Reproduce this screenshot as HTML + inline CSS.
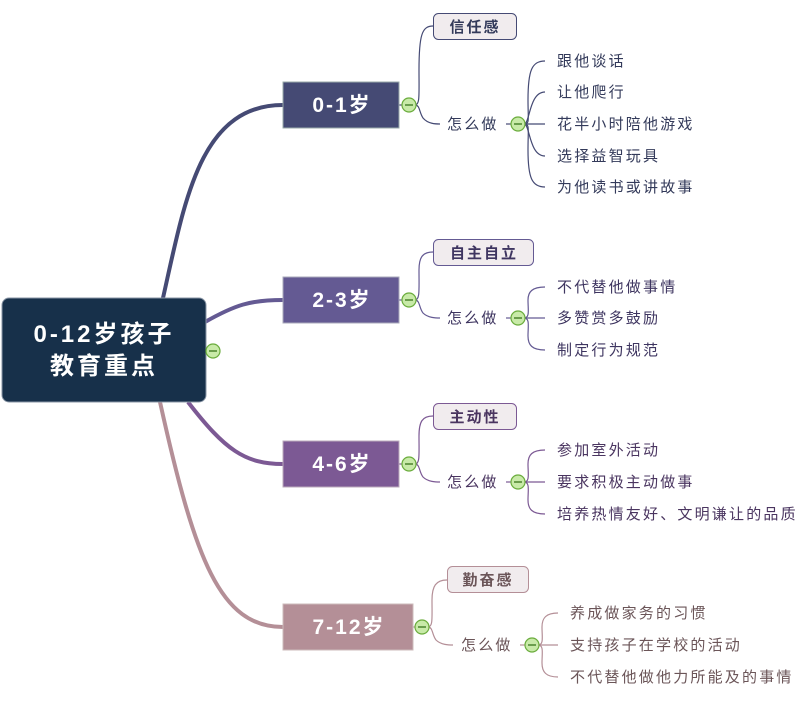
<!DOCTYPE html>
<html><head><meta charset="utf-8"><style>
html,body{margin:0;padding:0;background:#fff;}
svg text{font-family:"Liberation Sans","Noto Sans CJK SC",sans-serif;}
.lf{font-size:15px;letter-spacing:2.2px;}
</style></head><body>
<svg width="800" height="704" viewBox="0 0 800 704" xmlns="http://www.w3.org/2000/svg">
<g fill="none" stroke-width="4">
<path d="M163,298 C185,200 200,105 283,105" stroke="#454a74"/>
<path d="M205,322 C235,305 250,300 283,300" stroke="#645a93"/>
<path d="M188,402 C225,450 245,464 283,464" stroke="#7c5994"/>
<path d="M160,402 C195,560 220,627 283,627" stroke="#b48f97"/>
</g>
<rect x="2" y="298" width="204" height="104" rx="7" fill="#17304a" stroke="#8a96a6" stroke-width="1"/>
<text x="104" y="342" fill="#fff" font-size="24" font-weight="bold" text-anchor="middle" letter-spacing="3">0-12岁孩子</text>
<text x="104" y="374" fill="#fff" font-size="24" font-weight="bold" text-anchor="middle" letter-spacing="3">教育重点</text>
<circle cx="213" cy="351" r="7" fill="#c8eaa8" stroke="#6aac3c" stroke-width="1.2"/><line x1="209" y1="351" x2="217" y2="351" stroke="#2d6a10" stroke-width="1.2"/>

<g stroke="#454a74" fill="none" stroke-width="1.2">
<line x1="399" y1="105" x2="403" y2="105"/>
<path d="M415,105 C420,105 419,95 419,70 C419,35 422,26 433,26"/>
<path d="M415,105 C420,105 419,112 423,118 C428,124 436,124 440,124"/>
<line x1="506" y1="124" x2="512" y2="124"/>
<path d="M524,124 C530,124 528,120 528,100 C528,70 532,61 545,61"/>
<path d="M524,124 C530,124 529,92 545,92"/>
<line x1="524" y1="124" x2="545" y2="124"/>
<path d="M524,124 C530,124 529,156 545,156"/>
<path d="M524,124 C530,124 528,128 528,150 C528,178 532,187 545,187"/>
</g>
<rect x="283" y="82" width="116" height="46" fill="#454a74" stroke="#9aa" stroke-width="1"/>
<text x="342" y="112" fill="#fff" font-size="21" font-weight="bold" text-anchor="middle" letter-spacing="2">0-1岁</text>
<rect x="433.5" y="13.5" width="83" height="26" rx="5" fill="#f1ecee" stroke="#454a74"/>
<text x="475" y="32" fill="#333a5a" font-size="15" font-weight="bold" text-anchor="middle" letter-spacing="2">信任感</text>
<text x="447" y="129" fill="#333a5a" class="lf">怎么做</text>
<g fill="#333a5a">
<text x="557" y="66" class="lf">跟他谈话</text>
<text x="557" y="97" class="lf">让他爬行</text>
<text x="557" y="129" class="lf">花半小时陪他游戏</text>
<text x="557" y="161" class="lf">选择益智玩具</text>
<text x="557" y="192" class="lf">为他读书或讲故事</text>
</g>

<g stroke="#645a93" fill="none" stroke-width="1.2">
<line x1="399" y1="300" x2="403" y2="300"/>
<path d="M415,300 C420,300 419,290 419,270 C419,258 422,252 433,252"/>
<path d="M415,300 C420,300 419,308 423,313 C428,318 436,318 440,318"/>
<line x1="506" y1="318" x2="512" y2="318"/>
<path d="M524,318 C530,318 528,310 528,300 C528,292 532,287 545,287"/>
<line x1="524" y1="318" x2="545" y2="318"/>
<path d="M524,318 C530,318 528,326 528,336 C528,345 532,350 545,350"/>
</g>
<rect x="283" y="277" width="116" height="46" fill="#645a93" stroke="#aab" stroke-width="1"/>
<text x="342" y="307" fill="#fff" font-size="21" font-weight="bold" text-anchor="middle" letter-spacing="2">2-3岁</text>
<rect x="433.5" y="239.5" width="100" height="26" rx="5" fill="#f1ecee" stroke="#645a93"/>
<text x="484" y="258" fill="#3e3560" font-size="15" font-weight="bold" text-anchor="middle" letter-spacing="2">自主自立</text>
<text x="447" y="323" fill="#3e3560" class="lf">怎么做</text>
<g fill="#3e3560">
<text x="557" y="292" class="lf">不代替他做事情</text>
<text x="557" y="323" class="lf">多赞赏多鼓励</text>
<text x="557" y="355" class="lf">制定行为规范</text>
</g>

<g stroke="#7c5994" fill="none" stroke-width="1.2">
<line x1="399" y1="464" x2="403" y2="464"/>
<path d="M415,464 C420,464 419,455 419,436 C419,422 422,416 433,416"/>
<path d="M415,464 C420,464 419,472 423,477 C428,482 436,482 440,482"/>
<line x1="506" y1="482" x2="512" y2="482"/>
<path d="M524,482 C530,482 528,474 528,464 C528,455 532,450 545,450"/>
<line x1="524" y1="482" x2="545" y2="482"/>
<path d="M524,482 C530,482 528,490 528,500 C528,509 532,514 545,514"/>
</g>
<rect x="283" y="441" width="116" height="46" fill="#7c5994" stroke="#bab" stroke-width="1"/>
<text x="342" y="471" fill="#fff" font-size="21" font-weight="bold" text-anchor="middle" letter-spacing="2">4-6岁</text>
<rect x="433.5" y="403.5" width="83" height="26" rx="5" fill="#f1ecee" stroke="#7c5994"/>
<text x="475" y="422" fill="#4a3560" font-size="15" font-weight="bold" text-anchor="middle" letter-spacing="2">主动性</text>
<text x="447" y="487" fill="#4a3560" class="lf">怎么做</text>
<g fill="#4a3560">
<text x="557" y="455" class="lf">参加室外活动</text>
<text x="557" y="487" class="lf">要求积极主动做事</text>
<text x="557" y="519" class="lf">培养热情友好、文明谦让的品质</text>
</g>

<g stroke="#b48f97" fill="none" stroke-width="1.2">
<line x1="413" y1="627" x2="416" y2="627"/>
<path d="M428,627 C433,627 432,618 432,600 C432,586 436,580 447,580"/>
<path d="M428,627 C433,627 432,635 436,640 C441,645 449,645 453,645"/>
<line x1="520" y1="645" x2="526" y2="645"/>
<path d="M538,645 C544,645 542,637 542,627 C542,618 546,613 558,613"/>
<line x1="538" y1="645" x2="558" y2="645"/>
<path d="M538,645 C544,645 542,653 542,663 C542,672 546,677 558,677"/>
</g>
<rect x="283" y="604" width="130" height="46" fill="#b48f97" stroke="#cbb" stroke-width="1"/>
<text x="349" y="634" fill="#fff" font-size="21" font-weight="bold" text-anchor="middle" letter-spacing="2">7-12岁</text>
<rect x="447.5" y="566.5" width="81" height="26" rx="5" fill="#f1ecee" stroke="#b48f97"/>
<text x="488" y="585" fill="#6b5558" font-size="15" font-weight="bold" text-anchor="middle" letter-spacing="2">勤奋感</text>
<text x="461" y="650" fill="#6b5558" class="lf">怎么做</text>
<g fill="#6b5558">
<text x="570" y="618" class="lf">养成做家务的习惯</text>
<text x="570" y="650" class="lf">支持孩子在学校的活动</text>
<text x="570" y="682" class="lf">不代替他做他力所能及的事情</text>
</g>

<g fill="#c8eaa8" stroke="#6aac3c" stroke-width="1.2">
<circle cx="409" cy="105" r="7"/><circle cx="518" cy="124" r="7"/>
<circle cx="409" cy="300" r="7"/><circle cx="518" cy="318" r="7"/>
<circle cx="409" cy="464" r="7"/><circle cx="518" cy="482" r="7"/>
<circle cx="422" cy="627" r="7"/><circle cx="532" cy="645" r="7"/>
</g>
<g stroke="#2d6a10" stroke-width="1.2">
<line x1="405" y1="105" x2="413" y2="105"/><line x1="514" y1="124" x2="522" y2="124"/>
<line x1="405" y1="300" x2="413" y2="300"/><line x1="514" y1="318" x2="522" y2="318"/>
<line x1="405" y1="464" x2="413" y2="464"/><line x1="514" y1="482" x2="522" y2="482"/>
<line x1="418" y1="627" x2="426" y2="627"/><line x1="528" y1="645" x2="536" y2="645"/>
</g>
</svg>
</body></html>
